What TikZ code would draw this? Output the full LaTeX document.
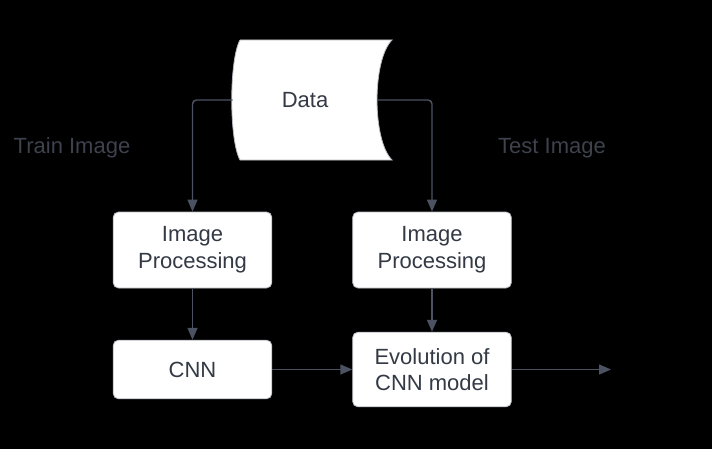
\documentclass[tikz,border=0pt]{standalone}
\usepackage{fontspec}
\setmainfont{Liberation Sans}
\usepackage{tikz}
\usetikzlibrary{arrows.meta, positioning}
\definecolor{monGris}{HTML}{4B5262}
\definecolor{monTexte}{HTML}{333A45}
\definecolor{monLabel}{HTML}{3D424D}

\begin{document}
\begin{tikzpicture}[x=0.75pt, y=-0.75pt,
    boite/.style={draw=monGris!40, fill=white, rounded corners=4pt, line width=0.6pt,
        text=monTexte, align=center, font=\fontsize{16.5}{20}\selectfont},
    fleche/.style={-{Triangle[length=9pt, width=7.5pt]}, monGris, line width=1.1pt},
    etiquette/.style={text=monLabel, font=\fontsize{16.5}{20}\selectfont}]
        % Fond
        \fill[black] (0,0) rectangle (712,449);
        \useasboundingbox (0,0) rectangle (712,449);
        
        % Donnees
        \filldraw[fill=white, draw=monGris!40, line width=0.6pt]
            (240,40) -- (392,40) .. controls (372,60) and (372,140) .. (392,160)
            -- (240,160) .. controls (229,140) and (229,60) .. (240,40);
        \node[text=monTexte, font=\fontsize{16.5}{20}\selectfont,
            minimum width=108pt, inner sep=0pt] (data) at (305,100) {Data};
        
        % Boites
        \node[boite, minimum width=119pt, minimum height=57pt] (ipl) at (192.5,250) {Image\\Processing};
        \node[boite, minimum width=119pt, minimum height=57pt] (ipr) at (432,250) {Image\\Processing};
        \node[boite, minimum width=119pt, minimum height=44pt] (cnn) at (192.5,369.5) {CNN};
        \node[boite, minimum width=119pt, minimum height=56pt] (evo) at (432,369.5) {Evolution of\\CNN model};
        \coordinate (sortie) at (611,369.5);
        
        % Etiquettes
        \node[etiquette] (train) at (72,148) {Train Image};
        \node[etiquette] (test) at (552,148) {Test Image};
        
        % Fleches
        \draw[fleche, rounded corners=3pt] (data.west) -| (ipl.north);
        \draw[fleche, rounded corners=3pt] (data.east) -| (ipr.north);
        \draw[fleche] (ipl) -- (cnn);
        \draw[fleche] (ipr) -- (evo);
        \draw[fleche] (cnn) -- (evo);
        \draw[fleche] (evo) -- (sortie);
    \end{tikzpicture}
\end{document}
